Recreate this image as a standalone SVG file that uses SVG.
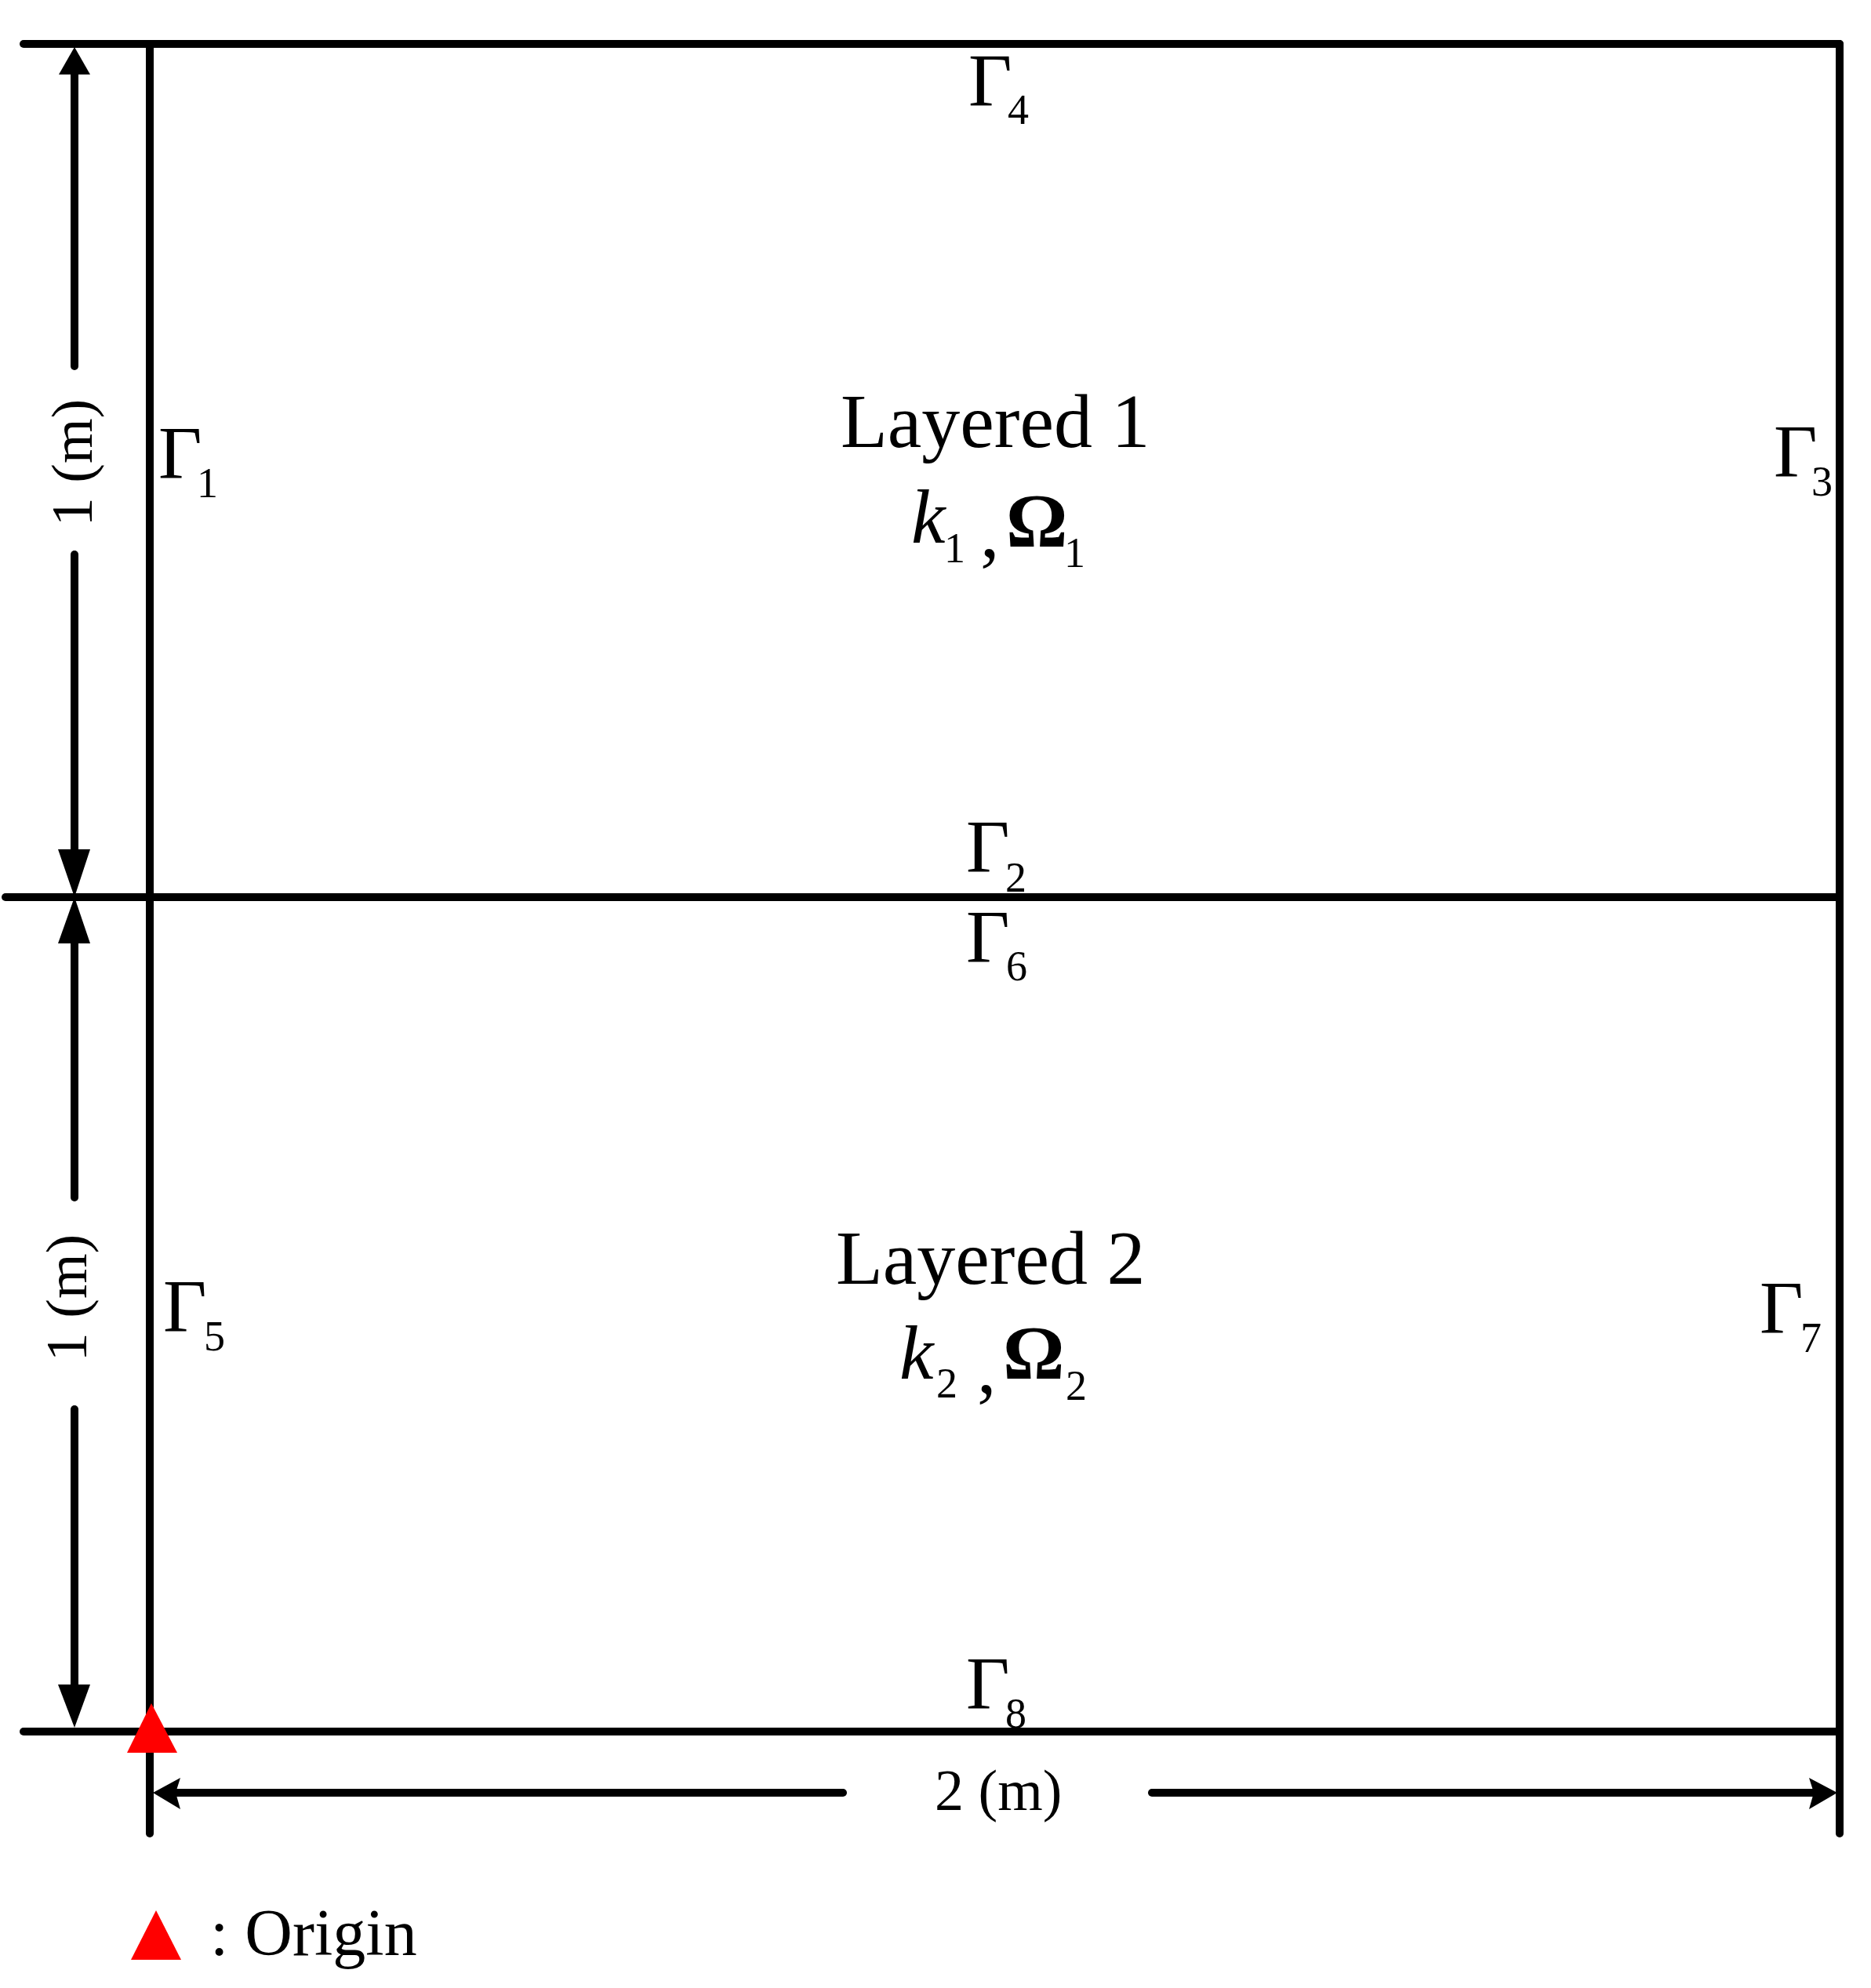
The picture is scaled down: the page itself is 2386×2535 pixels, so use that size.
<svg xmlns="http://www.w3.org/2000/svg" width="2386" height="2535" viewBox="0 0 2386 2535">
<style>
.ln{stroke:#000;stroke-width:10;stroke-linecap:round;fill:none}
.t{font-family:"Liberation Serif","Times New Roman",serif;fill:#000}
.big{font-size:96px}
.lay{font-size:98px}
.sub{font-size:54px}
.dim{font-size:74px}
.it{font-style:italic}
.bd{font-weight:bold}
.ah{fill:#000}
.red{fill:#FF0000}
</style>
<rect width="2386" height="2535" fill="#fff"/>
<g id="connectors">
<line class="ln" x1="30" y1="56" x2="2346" y2="56"/>
<line class="ln" x1="7" y1="1144" x2="2346" y2="1144"/>
<line class="ln" x1="30" y1="2208" x2="2346" y2="2208"/>
<line class="ln" x1="191" y1="56" x2="191" y2="2338"/>
<line class="ln" x1="2346" y1="56" x2="2346" y2="2338"/>
<line class="ln" x1="95" y1="90" x2="95" y2="467"/>
<line class="ln" x1="95" y1="707" x2="95" y2="1090"/>
<line class="ln" x1="95" y1="1198" x2="95" y2="1527"/>
<line class="ln" x1="95" y1="1797" x2="95" y2="2150"/>
<line class="ln" x1="225" y1="2286" x2="1075" y2="2286"/>
<line class="ln" x1="1469" y1="2286" x2="2312" y2="2286"/>
<polygon class="ah" points="95,60 115,95 75,95"/>
<polygon class="ah" points="95,1144 74,1083 115,1083"/>
<polygon class="ah" points="95,1144 74,1203 115,1203"/>
<polygon class="ah" points="95,2203 74,2148 115,2148"/>
<polygon class="ah" points="195,2286 230,2267 224,2286 230,2307"/>
<polygon class="ah" points="2343,2286 2307,2267 2313,2286 2307,2307"/>
</g>
<g id="boundary-labels">
<text class="t big" x="1235" y="135">Γ</text><text class="t sub" x="1285" y="158">4</text>
<text class="t big" x="202" y="610">Γ</text><text class="t sub" x="251" y="634">1</text>
<text class="t big" x="2262" y="608">Γ</text><text class="t sub" x="2310" y="632">3</text>
<text class="t big" x="1232" y="1112">Γ</text><text class="t sub" x="1282" y="1137">2</text>
<text class="t big" x="1232" y="1227">Γ</text><text class="t sub" x="1283" y="1250">6</text>
<text class="t big" x="208" y="1698">Γ</text><text class="t sub" x="260" y="1722">5</text>
<text class="t big" x="2244" y="1700">Γ</text><text class="t sub" x="2296" y="1724">7</text>
<text class="t big" x="1232" y="2179">Γ</text><text class="t sub" x="1282" y="2203">8</text>
</g>
<g id="layer1">
<text class="t lay" x="1072" y="570">Layered 1</text>
<text class="t lay it" x="1162" y="692">k</text>
<text class="t sub" x="1204" y="717">1</text>
<text class="t lay" x="1250" y="710">,</text>
<text class="t lay bd" x="1283" y="697">Ω</text>
<text class="t sub" x="1357" y="723">1</text>
</g>
<g id="layer2">
<text class="t lay" x="1066" y="1637">Layered 2</text>
<text class="t lay it" x="1147" y="1758">k</text>
<text class="t sub" x="1194" y="1782">2</text>
<text class="t lay" x="1246" y="1776">,</text>
<text class="t lay bd" x="1279" y="1758">Ω</text>
<text class="t sub" x="1359" y="1785">2</text>
</g>
<g id="dimensions">
<text class="t dim" text-anchor="middle" transform="translate(117,590) rotate(-90)">1 (m)</text>
<text class="t dim" text-anchor="middle" transform="translate(110,1655) rotate(-90)">1 (m)</text>
<text class="t dim" x="1192" y="2308">2 (m)</text>
</g>
<g id="origin">
<polygon class="red" points="193,2172 226,2235 162,2235"/>
</g>
<g id="legend">
<polygon class="red" points="199,2436 231,2499 167,2499"/>
<text class="t" font-size="84" x="268" y="2493">: Origin</text>
</g>
</svg>
